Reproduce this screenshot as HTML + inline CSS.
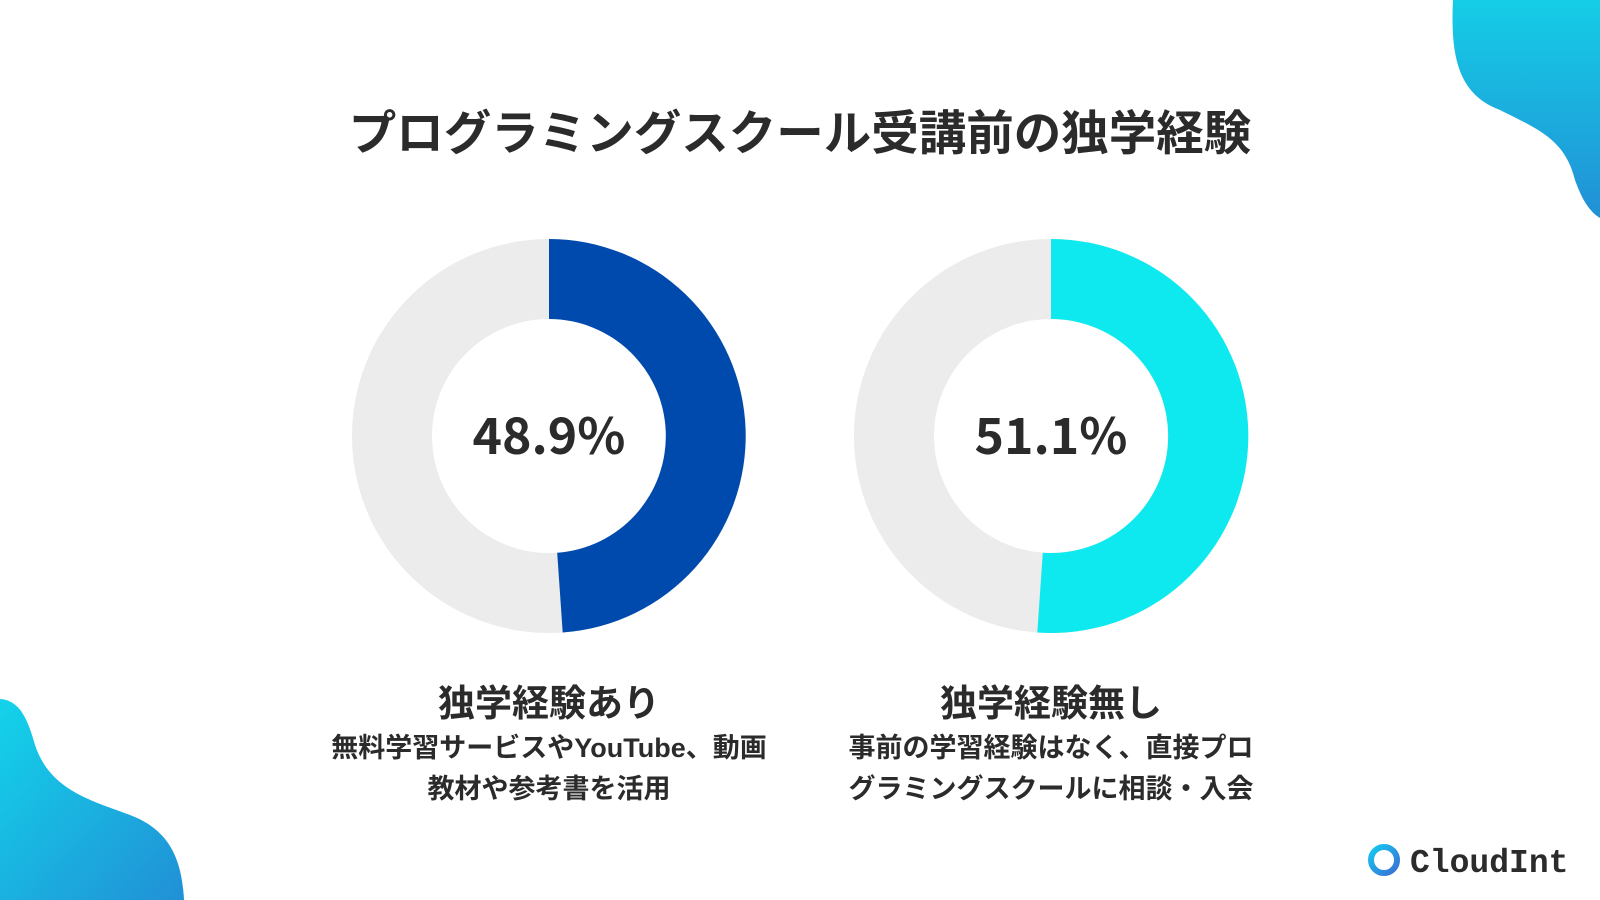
<!DOCTYPE html>
<html><head><meta charset="utf-8"><style>
body{margin:0;width:1600px;height:900px;background:#fff;overflow:hidden;position:relative;font-family:"Liberation Sans","Noto Sans CJK JP",sans-serif;color:#2b2b2b}
.t{position:absolute;left:0;width:1600px;text-align:center;font-weight:bold}
</style></head><body>
<svg width="1600" height="900" style="position:absolute;left:0;top:0">
<defs>
<linearGradient id="g1" x1="0" y1="0" x2="0" y2="1"><stop offset="0" stop-color="#15cde6"/><stop offset="1" stop-color="#2190d6"/></linearGradient>
<linearGradient id="g2" x1="0" y1="0" x2="1" y2="1"><stop offset="0" stop-color="#13d3ea"/><stop offset="1" stop-color="#2190d6"/></linearGradient>
<linearGradient id="g3" x1="0" y1="0" x2="1" y2="1"><stop offset="0" stop-color="#16c8f0"/><stop offset="1" stop-color="#3a6fd6"/></linearGradient>
</defs>
<path d="M1453 0 C1450 60 1460 95 1500 110 C1540 130 1565 140 1575 180 C1582 200 1590 212 1600 218 L1600 0 Z" fill="url(#g1)"/>
<path d="M0 699 C20 700 28 720 35 745 C50 790 90 800 130 815 C170 830 182 860 184 900 L0 900 Z" fill="url(#g2)"/>
<circle cx="549" cy="436" r="157" fill="none" stroke="#ececec" stroke-width="80"/>
<path d="M549 239 A197 197 0 0 1 562.7 632.5 L557.2 552.7 A117 117 0 0 0 549 319 Z" fill="#004aad"/>
<circle cx="1051" cy="436" r="157" fill="none" stroke="#ececec" stroke-width="80"/>
<path d="M1051 239 A197 197 0 1 1 1037.3 632.5 L1042.8 552.7 A117 117 0 1 0 1051 319 Z" fill="#0ee9ef"/>
<circle cx="1384" cy="860" r="13" fill="none" stroke="url(#g3)" stroke-width="6"/>
<text x="549" y="454" text-anchor="middle" font-size="50" font-weight="bold" fill="#2b2b2b" font-family="Noto Sans CJK JP, sans-serif">48.9%</text>
<text x="1051" y="454" text-anchor="middle" font-size="50" font-weight="bold" fill="#2b2b2b" font-family="Noto Sans CJK JP, sans-serif">51.1%</text>
<text x="1410" y="872" font-size="33" font-weight="bold" fill="#2b2b2b" font-family="Liberation Mono, monospace">CloudInt</text>
</svg>
<div class="t" style="top:95px;font-size:47.5px">プログラミングスクール受講前の独学経験</div>
<div class="t" style="top:673px;font-size:37px;left:349px;width:400px">独学経験あり</div>
<div class="t" style="top:673px;font-size:37px;left:851px;width:400px">独学経験無し</div>
<div class="t" style="top:728px;font-size:27px;line-height:41px;left:299px;width:500px">無料学習サービスやYouTube、動画<br>教材や参考書を活用</div>
<div class="t" style="top:728px;font-size:27px;line-height:41px;left:801px;width:500px">事前の学習経験はなく、直接プロ<br>グラミングスクールに相談・入会</div>
</body></html>
